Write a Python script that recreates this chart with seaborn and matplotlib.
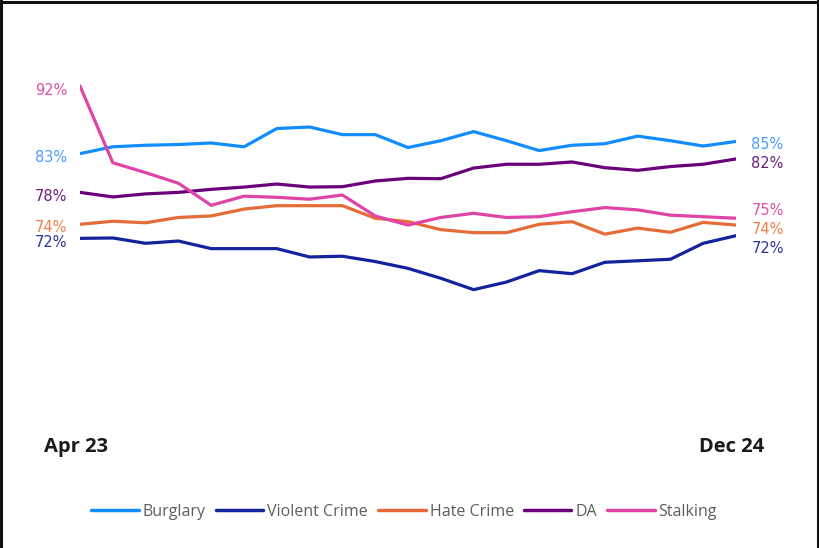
import matplotlib
matplotlib.use("Agg")
import matplotlib.pyplot as plt
import matplotlib.transforms as mtransforms
from matplotlib.lines import Line2D
import seaborn as sns
import pandas as pd
import numpy as np

months = ["Apr 23", "May 23", "Jun 23", "Jul 23", "Aug 23", "Sep 23", "Oct 23", "Nov 23",
          "Dec 23", "Jan 24", "Feb 24", "Mar 24", "Apr 24", "May 24", "Jun 24", "Jul 24",
          "Aug 24", "Sep 24", "Oct 24", "Nov 24", "Dec 24"]
burglary = [83.1, 84.0, 84.2, 84.3, 84.5, 84.0, 86.4, 86.6, 85.6, 85.6, 83.9,
            84.8, 86.0, 84.8, 83.5, 84.2, 84.4, 85.4, 84.8, 84.1, 84.7]
violent = [71.95, 72.0, 71.3, 71.6, 70.6, 70.6, 70.6, 69.5, 69.6, 68.9, 68.0,
           66.7, 65.2, 66.2, 67.7, 67.3, 68.8, 69.0, 69.2, 71.3, 72.3]
hate = [73.8, 74.2, 74.0, 74.7, 74.9, 75.8, 76.25, 76.25, 76.25, 74.6, 74.15,
        73.1, 72.7, 72.7, 73.8, 74.15, 72.5, 73.3, 72.75, 74.05, 73.7]
da = [78.0, 77.4, 77.8, 78.0, 78.4, 78.7, 79.1, 78.7, 78.75, 79.5, 79.85,
      79.8, 81.2, 81.7, 81.7, 82.0, 81.25, 80.9, 81.4, 81.7, 82.4]
stalking = [92.0, 81.9, 80.6, 79.2, 76.3, 77.5, 77.35, 77.1, 77.65, 74.9, 73.7,
            74.7, 75.25, 74.7, 74.8, 75.45, 76.0, 75.7, 75.0, 74.8, 74.6]

series_names = ["Burglary", "Violent Crime", "Hate Crime", "DA", "Stalking"]
series_values = [burglary, violent, hate, da, stalking]
colors = ["#118DFF", "#12239E", "#E66C37", "#6B007B", "#E044A7"]
label_colors = ["#4A9CFF", "#2A3696", "#F07E45", "#6B1F7B", "#E04FA8"]

rows = []
for name, vals in zip(series_names, series_values):
    for i, (m, v) in enumerate(zip(months, vals)):
        rows.append({"idx": i, "month": m, "series": name, "value": v})
df = pd.DataFrame(rows)

sns.set_theme(style="white")
plt.rcParams['font.family'] = ['Open Sans', 'DejaVu Sans']

W, H = 819, 548
fig = plt.figure(figsize=(W / 100, H / 100), dpi=100)
ax = fig.add_axes([80 / W, 1 - 420 / H, 656 / W, 380 / H])

palette = dict(zip(series_names, colors))
sns.lineplot(data=df, x="idx", y="value", hue="series", hue_order=series_names,
             palette=palette, linewidth=2.3, ax=ax, legend=False)

ax.set_xlim(0, len(months) - 1)
ax.set_ylim(48.05, 98.05)
for s in ax.spines.values():
    s.set_visible(False)
ax.set_yticks([])
ax.set_xticks([0, len(months) - 1])
ax.set_xticklabels([months[0], months[-1]], fontsize=14.5, fontweight="bold", color="#1a1a1a")
ax.tick_params(axis="x", length=0, pad=12)
shift = mtransforms.ScaledTranslation(-4 / 100, 0, fig.dpi_scale_trans)
for lbl in ax.get_xticklabels():
    lbl.set_transform(lbl.get_transform() + shift)
ax.set_xlabel("")
ax.set_ylabel("")
ax.grid(False)


def repel(vals, gap):
    pos = {i: vals[i] for i in range(len(vals))}
    for _ in range(200):
        moved = False
        o = sorted(pos, key=lambda k: -pos[k])
        for a, b in zip(o[:-1], o[1:]):
            d = pos[a] - pos[b]
            if d < gap - 1e-9:
                sh = (gap - d) / 2
                pos[a] += sh
                pos[b] -= sh
                moved = True
        if not moved:
            break
    return pos


px_per_unit = 380 / 50.0
first_vals = [v[0] for v in series_values]
last_vals = [v[-1] for v in series_values]
left_pos = repel(first_vals, 15 / px_per_unit)
right_pos = repel(last_vals, 19 / px_per_unit)

lab_family = ["DejaVu Sans"]
for i, name in enumerate(series_names):
    ax.annotate(f"{round(first_vals[i]):.0f}%", xy=(0, left_pos[i]), xytext=(-9, -3),
                textcoords="offset points", ha="right", va="center",
                fontsize=10.5, color=label_colors[i], family=lab_family,
                annotation_clip=False)
    ax.annotate(f"{round(last_vals[i]):.0f}%", xy=(len(months) - 1, right_pos[i]), xytext=(11, -2.5),
                textcoords="offset points", ha="left", va="center",
                fontsize=10.5, color=label_colors[i], family=lab_family,
                annotation_clip=False)

handles = [Line2D([0], [0], color=c, lw=2.5) for c in colors]
leg = fig.legend(handles, series_names, loc="center", bbox_to_anchor=(404 / W, 1 - 512 / H),
                 ncol=5, frameon=False, fontsize=11.5, handlelength=3.0,
                 handletextpad=0.25, columnspacing=0.6)
for t in leg.get_texts():
    t.set_color("#605E5C")

# frame lines (left, top, right)
lw = 2.2
fig.add_artist(Line2D([1 / W, 1 / W], [0, 1], transform=fig.transFigure, color="#111111", lw=lw))
fig.add_artist(Line2D([0, 1], [1 - 1.5 / H, 1 - 1.5 / H], transform=fig.transFigure, color="#111111", lw=lw))
fig.add_artist(Line2D([817.5 / W, 817.5 / W], [0, 1], transform=fig.transFigure, color="#111111", lw=lw))

fig.savefig("out.png", dpi=100)
